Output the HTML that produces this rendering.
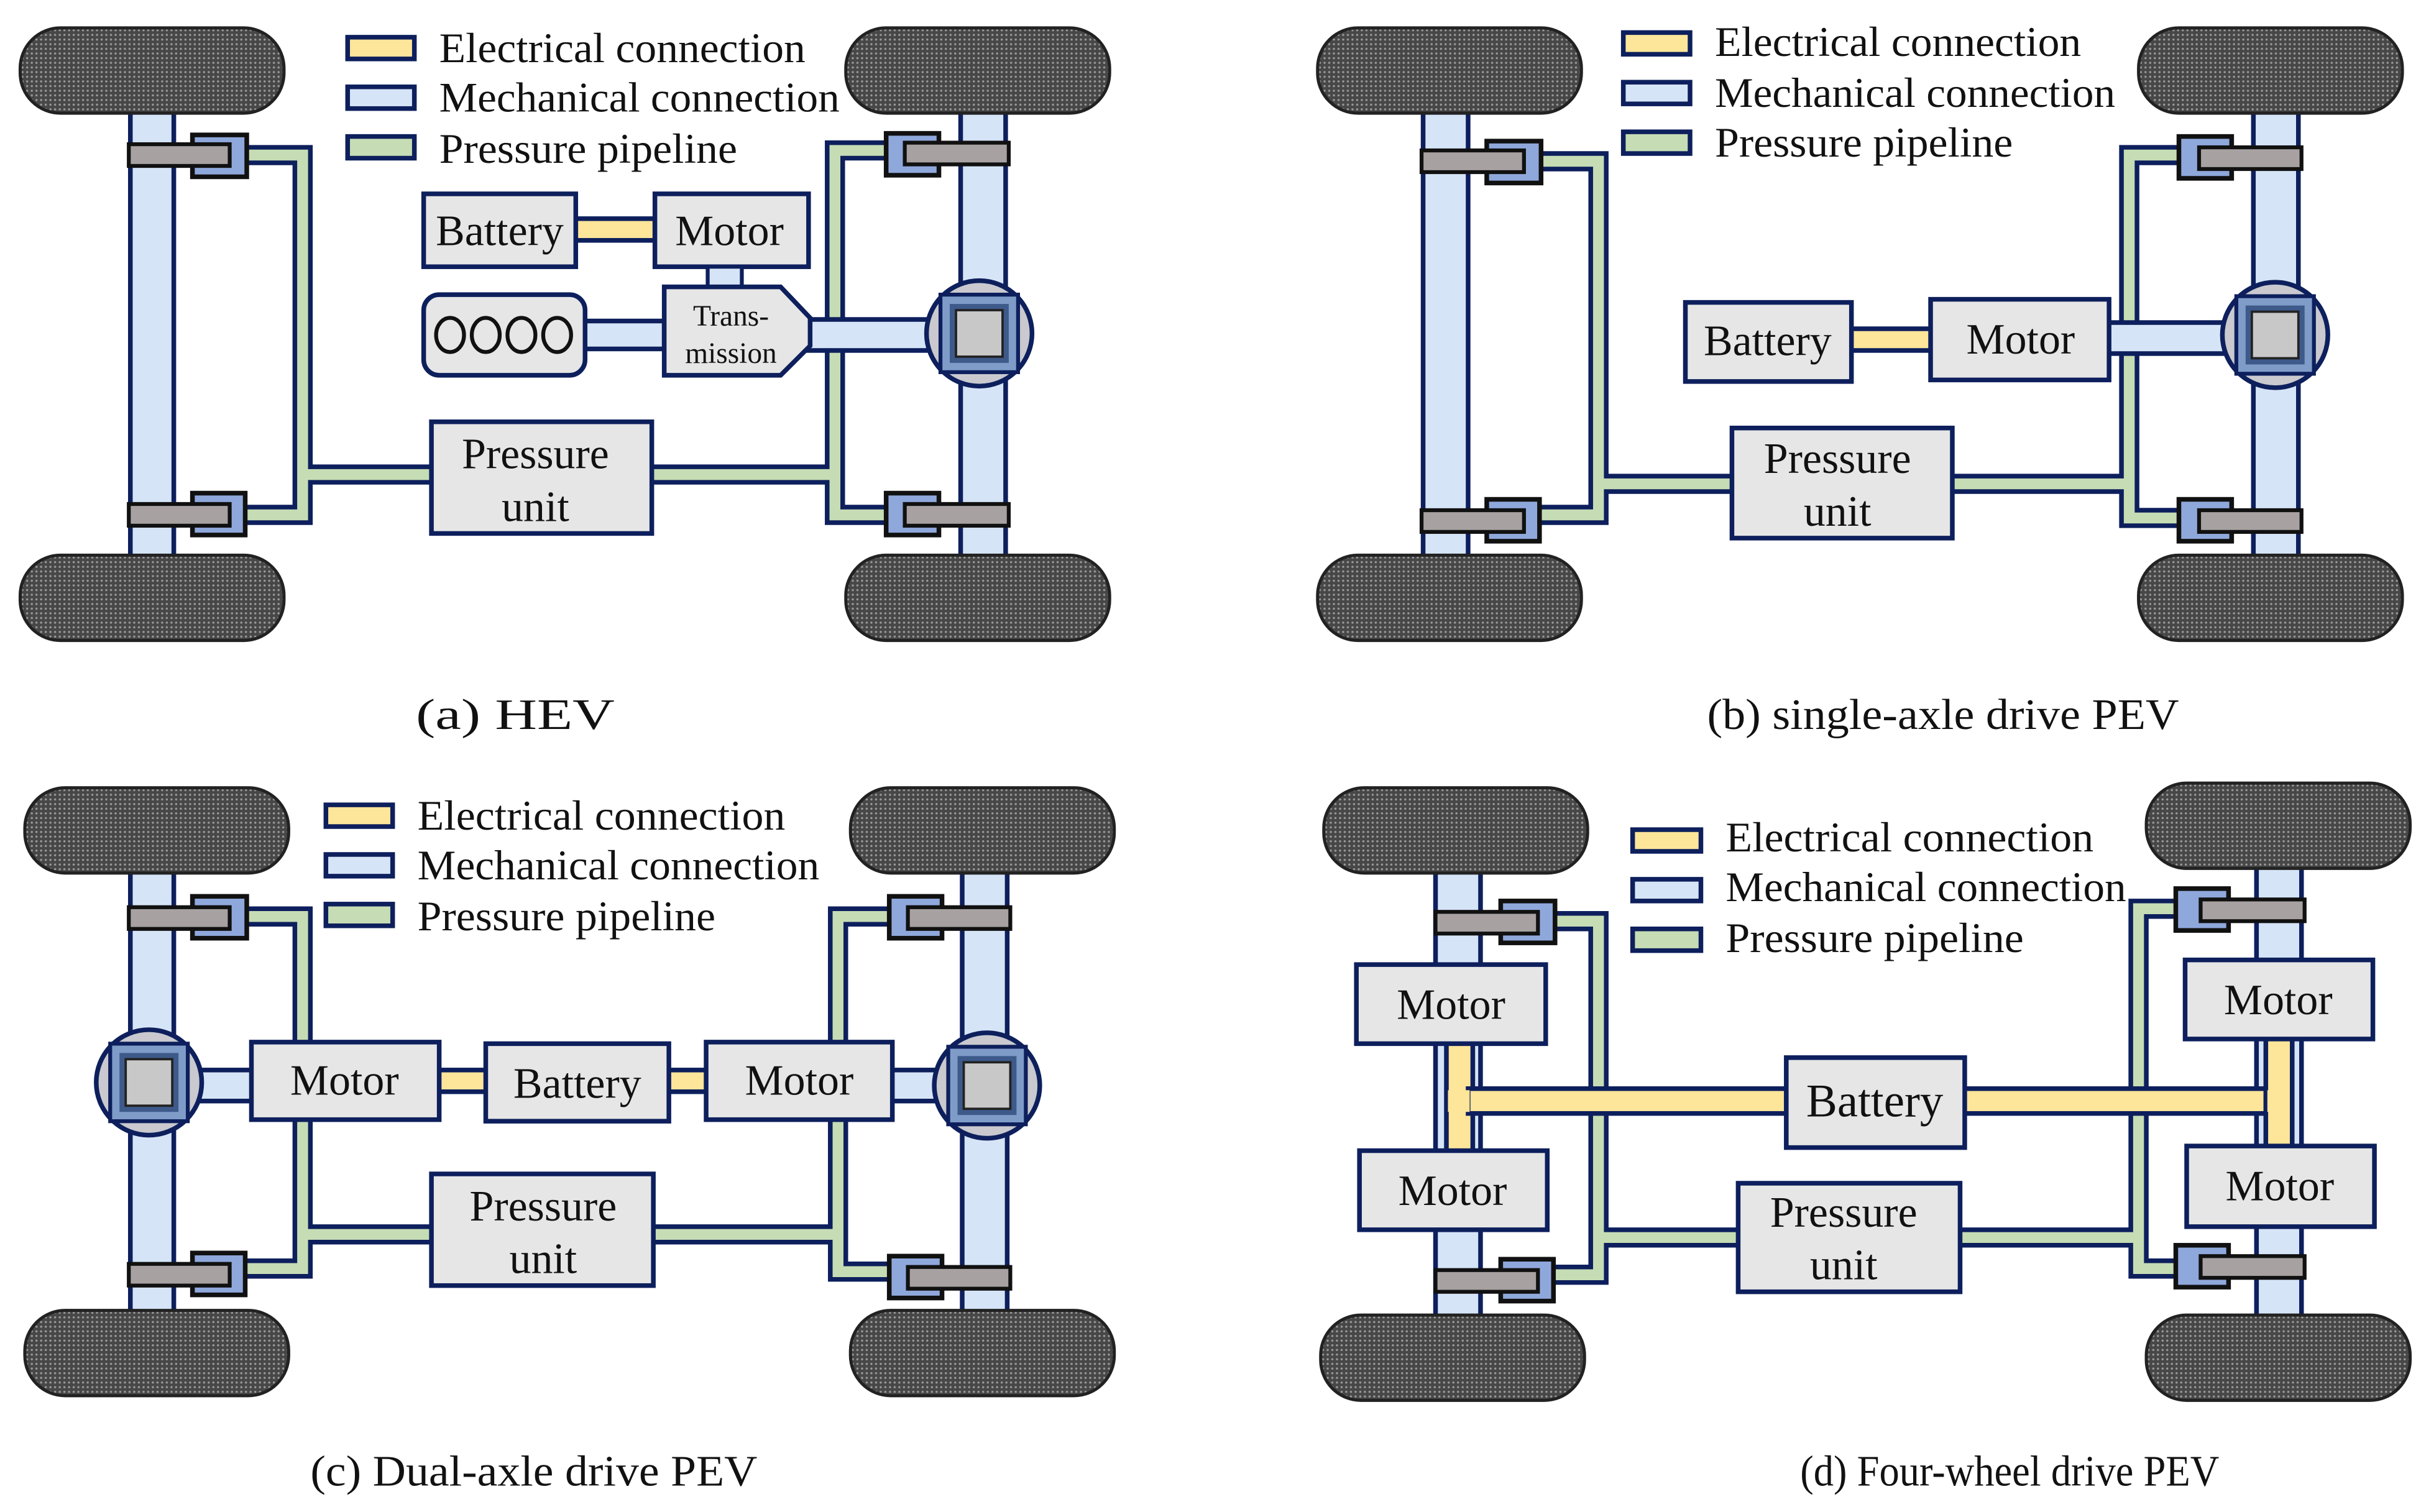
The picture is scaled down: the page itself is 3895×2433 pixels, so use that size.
<!DOCTYPE html>
<html><head><meta charset="utf-8">
<style>
html,body{margin:0;padding:0;background:#fff;}
svg{display:block;}
text{font-family:"Liberation Serif","DejaVu Serif",serif;fill:#111;}
</style></head>
<body>
<svg width="3895" height="2433" viewBox="0 0 1560 975" preserveAspectRatio="none" xmlns="http://www.w3.org/2000/svg">
<defs>
<pattern id="dots" width="3" height="3" patternUnits="userSpaceOnUse">
<rect width="3" height="3" fill="#474747"/>
<circle cx="1.5" cy="1.5" r="0.7" fill="#9a9a9a"/>
</pattern>
<g id="wheel"><rect x="0" y="0" width="170" height="55" rx="26" fill="url(#dots)" stroke="#222" stroke-width="2"/></g>
<g id="diff">
<circle cx="0" cy="0" r="34" fill="#c9c9cf" stroke="#0d1f5c" stroke-width="3"/>
<rect x="-25" y="-25" width="50" height="50" fill="#7f9cc9" stroke="#0d1f5c" stroke-width="2.5"/>
<rect x="-19" y="-19" width="38" height="38" fill="#3d5a8a"/>
<rect x="-15" y="-15" width="30" height="30" fill="#c8c8c8" stroke="#222" stroke-width="1.5"/>
</g>
</defs>
<rect width="1560" height="975" fill="#fff"/>

<!-- ================= PANEL A ================= -->
<g>
<rect x="84" y="70" width="28" height="292" fill="#d6e4f7" stroke="#0d1f5c" stroke-width="3"/>
<rect x="619" y="70" width="29" height="292" fill="#d6e4f7" stroke="#0d1f5c" stroke-width="3"/>
<use href="#wheel" x="13" y="18"/><use href="#wheel" x="545" y="18"/>
<use href="#wheel" x="13" y="358"/><use href="#wheel" x="545" y="358"/>
<path d="M158,100 H195 V332 H158 M195,306 H280" fill="none" stroke="#0d1f5c" stroke-width="13"/>
<path d="M158,100 H195 V332 H158 M195,306 H280" fill="none" stroke="#c6dcb4" stroke-width="7"/>
<path d="M572,97 H538 V332 H572 M538,306 H418" fill="none" stroke="#0d1f5c" stroke-width="13"/>
<path d="M572,97 H538 V332 H572 M538,306 H418" fill="none" stroke="#c6dcb4" stroke-width="7"/>
<rect x="124" y="87" width="35" height="27" fill="#8fa8dc" stroke="#111" stroke-width="3"/>
<rect x="83" y="93" width="65" height="14" fill="#a7a1a1" stroke="#111" stroke-width="2.5"/>
<rect x="124" y="318" width="34" height="27" fill="#8fa8dc" stroke="#111" stroke-width="3"/>
<rect x="83" y="325" width="65" height="14" fill="#a7a1a1" stroke="#111" stroke-width="2.5"/>
<rect x="571" y="86" width="34" height="27" fill="#8fa8dc" stroke="#111" stroke-width="3"/>
<rect x="583" y="92" width="67" height="14" fill="#a7a1a1" stroke="#111" stroke-width="2.5"/>
<rect x="571" y="318" width="34" height="27" fill="#8fa8dc" stroke="#111" stroke-width="3"/>
<rect x="583" y="325" width="67" height="14" fill="#a7a1a1" stroke="#111" stroke-width="2.5"/>
<rect x="371" y="141" width="51" height="14" fill="#fde59a" stroke="#0d1f5c" stroke-width="3"/>
<rect x="273" y="125" width="98" height="47" fill="#e6e6e6" stroke="#0d1f5c" stroke-width="3"/>
<text x="322" y="158" font-size="28" text-anchor="middle">Battery</text>
<rect x="422" y="125" width="99" height="47" fill="#e6e6e6" stroke="#0d1f5c" stroke-width="3"/>
<text x="470" y="158" font-size="28" text-anchor="middle">Motor</text>
<rect x="456" y="172" width="22" height="14" fill="#d6e4f7" stroke="#0d1f5c" stroke-width="2.5"/>
<rect x="376" y="207" width="52" height="18" fill="#d6e4f7" stroke="#0d1f5c" stroke-width="3"/>
<rect x="273" y="190" width="104" height="52" rx="10" fill="#e6e6e6" stroke="#0d1f5c" stroke-width="3"/>
<g fill="none" stroke="#111" stroke-width="2.5"><ellipse cx="290" cy="216" rx="9" ry="11"/><ellipse cx="313" cy="216" rx="9" ry="11"/><ellipse cx="336" cy="216" rx="9" ry="11"/><ellipse cx="359" cy="216" rx="9" ry="11"/></g>
<rect x="520" y="206" width="82" height="20" fill="#d6e4f7" stroke="#0d1f5c" stroke-width="3"/>
<polygon points="428,185 503,185 522,205 522,223 503,242 428,242" fill="#e6e6e6" stroke="#0d1f5c" stroke-width="3"/>
<text x="471" y="210" font-size="19" text-anchor="middle">Trans-</text>
<text x="471" y="234" font-size="19" text-anchor="middle">mission</text>
<use href="#diff" x="631" y="215"/>
<rect x="278" y="272" width="142" height="72" fill="#e6e6e6" stroke="#0d1f5c" stroke-width="3"/>
<text x="345" y="302" font-size="28" text-anchor="middle">Pressure</text>
<text x="345" y="336" font-size="28" text-anchor="middle">unit</text>
<rect x="224" y="24" width="43" height="14" fill="#fde59a" stroke="#0d1f5c" stroke-width="3"/>
<rect x="224" y="56" width="43" height="14" fill="#d6e4f7" stroke="#0d1f5c" stroke-width="3"/>
<rect x="224" y="88" width="43" height="14" fill="#c6dcb4" stroke="#0d1f5c" stroke-width="3"/>
<text x="283" y="40" font-size="27" textLength="236" lengthAdjust="spacingAndGlyphs">Electrical connection</text>
<text x="283" y="72" font-size="27" textLength="258" lengthAdjust="spacingAndGlyphs">Mechanical connection</text>
<text x="283" y="105" font-size="27" textLength="192" lengthAdjust="spacingAndGlyphs">Pressure pipeline</text>
<text x="268" y="470" font-size="28" textLength="128" lengthAdjust="spacingAndGlyphs">(a) HEV</text>
</g>

<!-- ================= PANEL B ================= -->
<g>
<rect x="917" y="70" width="29" height="292" fill="#d6e4f7" stroke="#0d1f5c" stroke-width="3"/>
<rect x="1452" y="70" width="29" height="292" fill="#d6e4f7" stroke="#0d1f5c" stroke-width="3"/>
<use href="#wheel" x="849" y="18"/><use href="#wheel" x="1378" y="18"/>
<use href="#wheel" x="849" y="358"/><use href="#wheel" x="1378" y="358"/>
<path d="M992,104 H1030 V332 H992 M1030,312 H1118" fill="none" stroke="#0d1f5c" stroke-width="13"/>
<path d="M992,104 H1030 V332 H992 M1030,312 H1118" fill="none" stroke="#c6dcb4" stroke-width="7"/>
<path d="M1405,100 H1372 V334 H1405 M1372,312 H1256" fill="none" stroke="#0d1f5c" stroke-width="13"/>
<path d="M1405,100 H1372 V334 H1405 M1372,312 H1256" fill="none" stroke="#c6dcb4" stroke-width="7"/>
<rect x="958" y="91" width="35" height="27" fill="#8fa8dc" stroke="#111" stroke-width="3"/>
<rect x="916" y="97" width="66" height="14" fill="#a7a1a1" stroke="#111" stroke-width="2.5"/>
<rect x="958" y="322" width="34" height="27" fill="#8fa8dc" stroke="#111" stroke-width="3"/>
<rect x="916" y="329" width="66" height="14" fill="#a7a1a1" stroke="#111" stroke-width="2.5"/>
<rect x="1404" y="88" width="34" height="27" fill="#8fa8dc" stroke="#111" stroke-width="3"/>
<rect x="1417" y="95" width="66" height="14" fill="#a7a1a1" stroke="#111" stroke-width="2.5"/>
<rect x="1404" y="322" width="34" height="27" fill="#8fa8dc" stroke="#111" stroke-width="3"/>
<rect x="1417" y="329" width="66" height="14" fill="#a7a1a1" stroke="#111" stroke-width="2.5"/>
<rect x="1192" y="212" width="53" height="14" fill="#fde59a" stroke="#0d1f5c" stroke-width="3"/>
<rect x="1086" y="195" width="107" height="51" fill="#e6e6e6" stroke="#0d1f5c" stroke-width="3"/>
<text x="1139" y="229" font-size="28" text-anchor="middle">Battery</text>
<rect x="1358" y="208" width="78" height="20" fill="#d6e4f7" stroke="#0d1f5c" stroke-width="3"/>
<rect x="1244" y="193" width="115" height="52" fill="#e6e6e6" stroke="#0d1f5c" stroke-width="3"/>
<text x="1302" y="228" font-size="28" text-anchor="middle">Motor</text>
<use href="#diff" x="1466" y="216"/>
<rect x="1116" y="276" width="142" height="71" fill="#e6e6e6" stroke="#0d1f5c" stroke-width="3"/>
<text x="1184" y="305" font-size="28" text-anchor="middle">Pressure</text>
<text x="1184" y="339" font-size="28" text-anchor="middle">unit</text>
<rect x="1046" y="21" width="43" height="14" fill="#fde59a" stroke="#0d1f5c" stroke-width="3"/>
<rect x="1046" y="53" width="43" height="14" fill="#d6e4f7" stroke="#0d1f5c" stroke-width="3"/>
<rect x="1046" y="85" width="43" height="14" fill="#c6dcb4" stroke="#0d1f5c" stroke-width="3"/>
<text x="1105" y="36" font-size="27" textLength="236" lengthAdjust="spacingAndGlyphs">Electrical connection</text>
<text x="1105" y="69" font-size="27" textLength="258" lengthAdjust="spacingAndGlyphs">Mechanical connection</text>
<text x="1105" y="101" font-size="27" textLength="192" lengthAdjust="spacingAndGlyphs">Pressure pipeline</text>
<text x="1100" y="470" font-size="28" textLength="304" lengthAdjust="spacingAndGlyphs">(b) single-axle drive PEV</text>
</g>

<!-- ================= PANEL C ================= -->
<g>
<rect x="84" y="560" width="28" height="290" fill="#d6e4f7" stroke="#0d1f5c" stroke-width="3"/>
<rect x="620" y="560" width="29" height="290" fill="#d6e4f7" stroke="#0d1f5c" stroke-width="3"/>
<use href="#wheel" x="16" y="508"/><use href="#wheel" x="548" y="508"/>
<use href="#wheel" x="16" y="845"/><use href="#wheel" x="548" y="845"/>
<path d="M158,591 H195 V818 H158 M195,796 H280" fill="none" stroke="#0d1f5c" stroke-width="13"/>
<path d="M158,591 H195 V818 H158 M195,796 H280" fill="none" stroke="#c6dcb4" stroke-width="7"/>
<path d="M574,591 H540 V820 H574 M540,796 H420" fill="none" stroke="#0d1f5c" stroke-width="13"/>
<path d="M574,591 H540 V820 H574 M540,796 H420" fill="none" stroke="#c6dcb4" stroke-width="7"/>
<rect x="124" y="578" width="35" height="27" fill="#8fa8dc" stroke="#111" stroke-width="3"/>
<rect x="83" y="585" width="65" height="14" fill="#a7a1a1" stroke="#111" stroke-width="2.5"/>
<rect x="124" y="808" width="34" height="27" fill="#8fa8dc" stroke="#111" stroke-width="3"/>
<rect x="83" y="815" width="65" height="14" fill="#a7a1a1" stroke="#111" stroke-width="2.5"/>
<rect x="573" y="578" width="34" height="27" fill="#8fa8dc" stroke="#111" stroke-width="3"/>
<rect x="585" y="585" width="66" height="14" fill="#a7a1a1" stroke="#111" stroke-width="2.5"/>
<rect x="573" y="810" width="34" height="27" fill="#8fa8dc" stroke="#111" stroke-width="3"/>
<rect x="585" y="817" width="66" height="14" fill="#a7a1a1" stroke="#111" stroke-width="2.5"/>
<rect x="128" y="690" width="36" height="20" fill="#d6e4f7" stroke="#0d1f5c" stroke-width="3"/>
<rect x="573" y="690" width="32" height="20" fill="#d6e4f7" stroke="#0d1f5c" stroke-width="3"/>
<use href="#diff" x="96" y="698"/>
<use href="#diff" x="636" y="700"/>
<rect x="282" y="690" width="33" height="14" fill="#fde59a" stroke="#0d1f5c" stroke-width="3"/>
<rect x="429" y="690" width="28" height="14" fill="#fde59a" stroke="#0d1f5c" stroke-width="3"/>
<rect x="162" y="672" width="121" height="50" fill="#e6e6e6" stroke="#0d1f5c" stroke-width="3"/>
<text x="222" y="706" font-size="28" text-anchor="middle">Motor</text>
<rect x="313" y="673" width="118" height="50" fill="#e6e6e6" stroke="#0d1f5c" stroke-width="3"/>
<text x="372" y="708" font-size="28" text-anchor="middle">Battery</text>
<rect x="455" y="672" width="120" height="50" fill="#e6e6e6" stroke="#0d1f5c" stroke-width="3"/>
<text x="515" y="706" font-size="28" text-anchor="middle">Motor</text>
<rect x="278" y="757" width="143" height="72" fill="#e6e6e6" stroke="#0d1f5c" stroke-width="3"/>
<text x="350" y="787" font-size="28" text-anchor="middle">Pressure</text>
<text x="350" y="821" font-size="28" text-anchor="middle">unit</text>
<rect x="210" y="519" width="43" height="14" fill="#fde59a" stroke="#0d1f5c" stroke-width="3"/>
<rect x="210" y="551" width="43" height="14" fill="#d6e4f7" stroke="#0d1f5c" stroke-width="3"/>
<rect x="210" y="583" width="43" height="14" fill="#c6dcb4" stroke="#0d1f5c" stroke-width="3"/>
<text x="269" y="535" font-size="27" textLength="237" lengthAdjust="spacingAndGlyphs">Electrical connection</text>
<text x="269" y="567" font-size="27" textLength="259" lengthAdjust="spacingAndGlyphs">Mechanical connection</text>
<text x="269" y="600" font-size="27" textLength="192" lengthAdjust="spacingAndGlyphs">Pressure pipeline</text>
<text x="200" y="958" font-size="28" textLength="288" lengthAdjust="spacingAndGlyphs">(c) Dual-axle drive PEV</text>
</g>

<!-- ================= PANEL D ================= -->
<g>
<rect x="925" y="560" width="29" height="290" fill="#d6e4f7" stroke="#0d1f5c" stroke-width="3"/>
<rect x="1454" y="557" width="29" height="293" fill="#d6e4f7" stroke="#0d1f5c" stroke-width="3"/>
<use href="#wheel" x="853" y="508"/><use href="#wheel" x="1383" y="505"/>
<use href="#wheel" x="851" y="848"/><use href="#wheel" x="1383" y="848"/>
<path d="M1000,594 H1030 V822 H1000 M1030,798 H1122" fill="none" stroke="#0d1f5c" stroke-width="13"/>
<path d="M1000,594 H1030 V822 H1000 M1030,798 H1122" fill="none" stroke="#c6dcb4" stroke-width="7"/>
<path d="M1405,586 H1378 V818 H1405 M1378,798 H1262" fill="none" stroke="#0d1f5c" stroke-width="13"/>
<path d="M1405,586 H1378 V818 H1405 M1378,798 H1262" fill="none" stroke="#c6dcb4" stroke-width="7"/>
<rect x="967" y="581" width="35" height="27" fill="#8fa8dc" stroke="#111" stroke-width="3"/>
<rect x="925" y="588" width="66" height="14" fill="#a7a1a1" stroke="#111" stroke-width="2.5"/>
<rect x="967" y="812" width="34" height="27" fill="#8fa8dc" stroke="#111" stroke-width="3"/>
<rect x="925" y="819" width="66" height="14" fill="#a7a1a1" stroke="#111" stroke-width="2.5"/>
<rect x="1402" y="573" width="34" height="27" fill="#8fa8dc" stroke="#111" stroke-width="3"/>
<rect x="1418" y="580" width="67" height="14" fill="#a7a1a1" stroke="#111" stroke-width="2.5"/>
<rect x="1402" y="803" width="34" height="27" fill="#8fa8dc" stroke="#111" stroke-width="3"/>
<rect x="1418" y="810" width="67" height="14" fill="#a7a1a1" stroke="#111" stroke-width="2.5"/>
<rect x="932" y="670" width="17" height="75" fill="#fde59a" stroke="#0d1f5c" stroke-width="3"/>
<rect x="946" y="702" width="207" height="16" fill="#fde59a" stroke="#0d1f5c" stroke-width="3"/>
<rect x="1264" y="702" width="199" height="16" fill="#fde59a" stroke="#0d1f5c" stroke-width="3"/>
<rect x="1460" y="667" width="17" height="75" fill="#fde59a" stroke="#0d1f5c" stroke-width="3"/>
<rect x="933" y="703" width="14" height="14" fill="#fde59a"/>
<rect x="1461" y="703" width="14" height="14" fill="#fde59a"/>
<rect x="874" y="622" width="122" height="51" fill="#e6e6e6" stroke="#0d1f5c" stroke-width="3"/>
<text x="935" y="657" font-size="28" text-anchor="middle">Motor</text>
<rect x="876" y="742" width="121" height="51" fill="#e6e6e6" stroke="#0d1f5c" stroke-width="3"/>
<text x="936" y="777" font-size="28" text-anchor="middle">Motor</text>
<rect x="1408" y="619" width="121" height="51" fill="#e6e6e6" stroke="#0d1f5c" stroke-width="3"/>
<text x="1468" y="654" font-size="28" text-anchor="middle">Motor</text>
<rect x="1409" y="739" width="121" height="52" fill="#e6e6e6" stroke="#0d1f5c" stroke-width="3"/>
<text x="1469" y="774" font-size="28" text-anchor="middle">Motor</text>
<rect x="1151" y="682" width="115" height="58" fill="#e6e6e6" stroke="#0d1f5c" stroke-width="3"/>
<text x="1208" y="720" font-size="30" text-anchor="middle">Battery</text>
<rect x="1120" y="763" width="143" height="70" fill="#e6e6e6" stroke="#0d1f5c" stroke-width="3"/>
<text x="1188" y="791" font-size="28" text-anchor="middle">Pressure</text>
<text x="1188" y="825" font-size="28" text-anchor="middle">unit</text>
<rect x="1052" y="535" width="44" height="14" fill="#fde59a" stroke="#0d1f5c" stroke-width="3"/>
<rect x="1052" y="567" width="44" height="14" fill="#d6e4f7" stroke="#0d1f5c" stroke-width="3"/>
<rect x="1052" y="599" width="44" height="14" fill="#c6dcb4" stroke="#0d1f5c" stroke-width="3"/>
<text x="1112" y="549" font-size="27" textLength="237" lengthAdjust="spacingAndGlyphs">Electrical connection</text>
<text x="1112" y="581" font-size="27" textLength="258" lengthAdjust="spacingAndGlyphs">Mechanical connection</text>
<text x="1112" y="614" font-size="27" textLength="192" lengthAdjust="spacingAndGlyphs">Pressure pipeline</text>
<text x="1160" y="958" font-size="28" textLength="270" lengthAdjust="spacingAndGlyphs">(d) Four-wheel drive PEV</text>
</g>
</svg>
</body></html>
